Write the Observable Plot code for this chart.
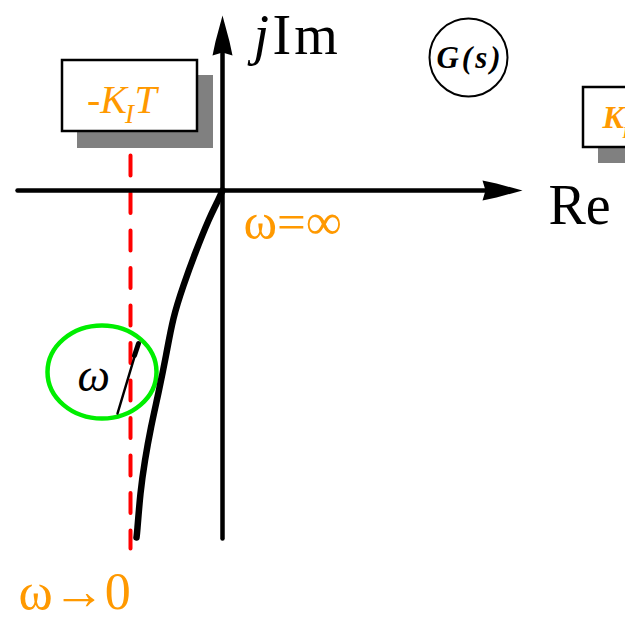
<!DOCTYPE html>
<html><head><meta charset="utf-8">
<script src="https://cdn.jsdelivr.net/npm/d3@7"></script>
<script src="https://cdn.jsdelivr.net/npm/@observablehq/plot@0.6"></script>
<style>html,body{margin:0;padding:0;background:#fff;overflow:hidden}</style>
</head><body><div id="chart"></div>
<script>
// Nyquist locus of G(s) in the complex plane (Re, Im)
const locusRe = [0, -0.06, -0.14, -0.27, -0.39, -0.49, -0.565, -0.64, -0.715, -0.775, -0.82, -0.85, -0.86];
const locusIm = [0, -0.13, -0.30, -0.62, -0.95, -1.28, -1.65, -2.02, -2.37, -2.70, -3.03, -3.37, -3.47];
// zoomed branch near the asymptote
const branchRe = [-1.05, -0.84];
const branchIm = [-2.23, -1.53];
const branchTipRe = [-0.84, -0.88];
const branchTipIm = [-1.53, -1.65];
// asymptote Re = -K_I T
const asymRe = [-0.92, -0.92];
const asymIm = [0.35, -3.58];
// axes
const reAxisRe = [-2.05, 2.7];
const reAxisIm = [0, 0];
const imAxisRe = [0, 0];
const imAxisIm = [-3.48, 1.45];
const arrowRe = [3.0, 0];
const arrowIm = [0, 1.75];
const arrowRot = [90, 0];
// annotation boxes (Re1, Re2, Im1, Im2)
const boxRe1 = [-1.60, 3.61];
const boxRe2 = [-0.25, 4.30];
const boxIm1 = [1.30, 1.03];
const boxIm2 = [0.59, 0.43];
const shadowRe1 = [-1.45, 3.76];
const shadowRe2 = [-0.09, 4.30];
const shadowIm1 = [1.15, 0.88];
const shadowIm2 = [0.42, 0.27];
// highlighted region and G(s) badge centres
const ellipseRe = [-1.205], ellipseIm = [-1.815];
const badgeRe = [2.46], badgeIm = [1.33];
// text labels
const labels = {
  j: "j", Im: "Im", Re: "Re", wInf: "ω=∞", w0: "ω→0", w: "ω", G: "G(s)",
  negK: "-K", sub: "I", T: "T", K: "K"
};

const zip = (a, b) => a.map((v, i) => ({re: v, im: b[i]}));
const locus = zip(locusRe, locusIm);
const branch = zip(branchRe, branchIm);
const branchTip = zip(branchTipRe, branchTipIm);
const asym = zip(asymRe, asymIm);
const reAxis = zip(reAxisRe, reAxisIm);
const imAxis = zip(imAxisRe, imAxisIm);
const arrows = arrowRe.map((v, i) => ({re: v, im: arrowIm[i], rot: arrowRot[i]}));
const boxes = boxRe1.map((v, i) => ({x1: v, x2: boxRe2[i], y1: boxIm1[i], y2: boxIm2[i]}));
const shadows = shadowRe1.map((v, i) => ({x1: v, x2: shadowRe2[i], y1: shadowIm1[i], y2: shadowIm2[i]}));

const arrowSym = {draw(c) {
  c.moveTo(0, 0); c.lineTo(7, 26); c.lineTo(10, 40); c.lineTo(0, 37); c.lineTo(-10, 40); c.lineTo(-7, 26); c.closePath();
}};
const ellipseSym = {draw(c) {
  const a = 54.5, b = 46.5, k = 0.5523;
  c.moveTo(a, 0);
  c.bezierCurveTo(a, k * b, k * a, b, 0, b);
  c.bezierCurveTo(-k * a, b, -a, k * b, -a, 0);
  c.bezierCurveTo(-a, -k * b, -k * a, -b, 0, -b);
  c.bezierCurveTo(k * a, -b, a, -k * b, a, 0);
  c.closePath();
}};

const serif = "Liberation Serif, Times New Roman, serif";
const orange = "#ff9900";
const txt = (t, re, im, o) => Plot.text([{re, im}], {x: "re", y: "im", text: () => t, fontFamily: serif, lineAnchor: "bottom", textAnchor: "start", ...o});

const chart = Plot.plot({
  width: 625, height: 620, margin: 0,
  x: {domain: [-2.22, 4.03], axis: null},
  y: {domain: [-4.30, 1.90], axis: null},
  marks: [
    Plot.rect(shadows, {x1: "x1", x2: "x2", y1: "y1", y2: "y2", fill: "#808080", clip: true}),
    Plot.rect(boxes, {x1: "x1", x2: "x2", y1: "y1", y2: "y2", fill: "white", stroke: "black", strokeWidth: 2.5, clip: true}),
    Plot.dot(zip(ellipseRe, ellipseIm), {x: "re", y: "im", symbol: ellipseSym, fill: "none", stroke: "#00ee00", strokeWidth: 4.5}),
    Plot.line(asym, {x: "re", y: "im", stroke: "#ff0000", strokeWidth: 4, strokeDasharray: "20,17.5"}),
    Plot.line(reAxis, {x: "re", y: "im", stroke: "black", strokeWidth: 4.5}),
    Plot.line(imAxis, {x: "re", y: "im", stroke: "black", strokeWidth: 4.5}),
    Plot.dot(arrows, {x: "re", y: "im", rotate: "rot", symbol: arrowSym, fill: "black", stroke: "none"}),
    Plot.line(locus, {x: "re", y: "im", stroke: "black", strokeWidth: 6.5, curve: "natural"}),
    Plot.line(branch, {x: "re", y: "im", stroke: "black", strokeWidth: 2.5}),
    Plot.line(branchTip, {x: "re", y: "im", stroke: "black", strokeWidth: 5}),
    Plot.dot(zip(badgeRe, badgeIm), {x: "re", y: "im", r: 39, fill: "none", stroke: "black", strokeWidth: 2}),
    txt(labels.G, badgeRe[0] + 0.015, badgeIm[0] - 0.01, {textAnchor: "middle", lineAnchor: "middle", fontSize: 31, fontStyle: "italic", fontWeight: "bold", fill: "black"}),
    txt(labels.j, 0.31, 1.37, {fontSize: 56, fontStyle: "italic", fill: "black"}),
    txt(labels.Im, 0.50, 1.37, {fontSize: 56, fill: "black"}),
    txt(labels.Re, 3.26, -0.33, {fontSize: 56, fill: "black"}),
    txt(labels.wInf, 0.21, -0.48, {fontSize: 51, fill: orange}),
    txt(labels.w0, -2.04, -4.18, {fontSize: 52, fill: orange}),
    txt(labels.w, -1.45, -2.0, {fontSize: 46, fontStyle: "italic", fill: "black"}),
    txt(labels.negK, -0.955, 0.78, {textAnchor: "end", fontSize: 40, fontStyle: "italic", fill: orange}),
    txt(labels.sub, -0.975, 0.68, {fontSize: 27, fontStyle: "italic", fill: orange}),
    txt(labels.T, -0.88, 0.78, {fontSize: 40, fontStyle: "italic", fill: orange}),
    txt(labels.K, 3.80, 0.63, {fontSize: 32, fontStyle: "italic", fontWeight: "bold", fill: orange}),
    txt(labels.sub, 4.00, 0.53, {fontSize: 16, fontStyle: "italic", fontWeight: "bold", fill: orange})
  ]
});
d3.select(chart).selectAll("text")
  .filter(function () { return this.textContent === "G(s)"; })
  .style("letter-spacing", "3px");
d3.select(chart).selectAll("text")
  .filter(function () { return this.textContent === "Im"; })
  .style("letter-spacing", "3px");
document.getElementById("chart").appendChild(chart);
</script>
</body></html>
